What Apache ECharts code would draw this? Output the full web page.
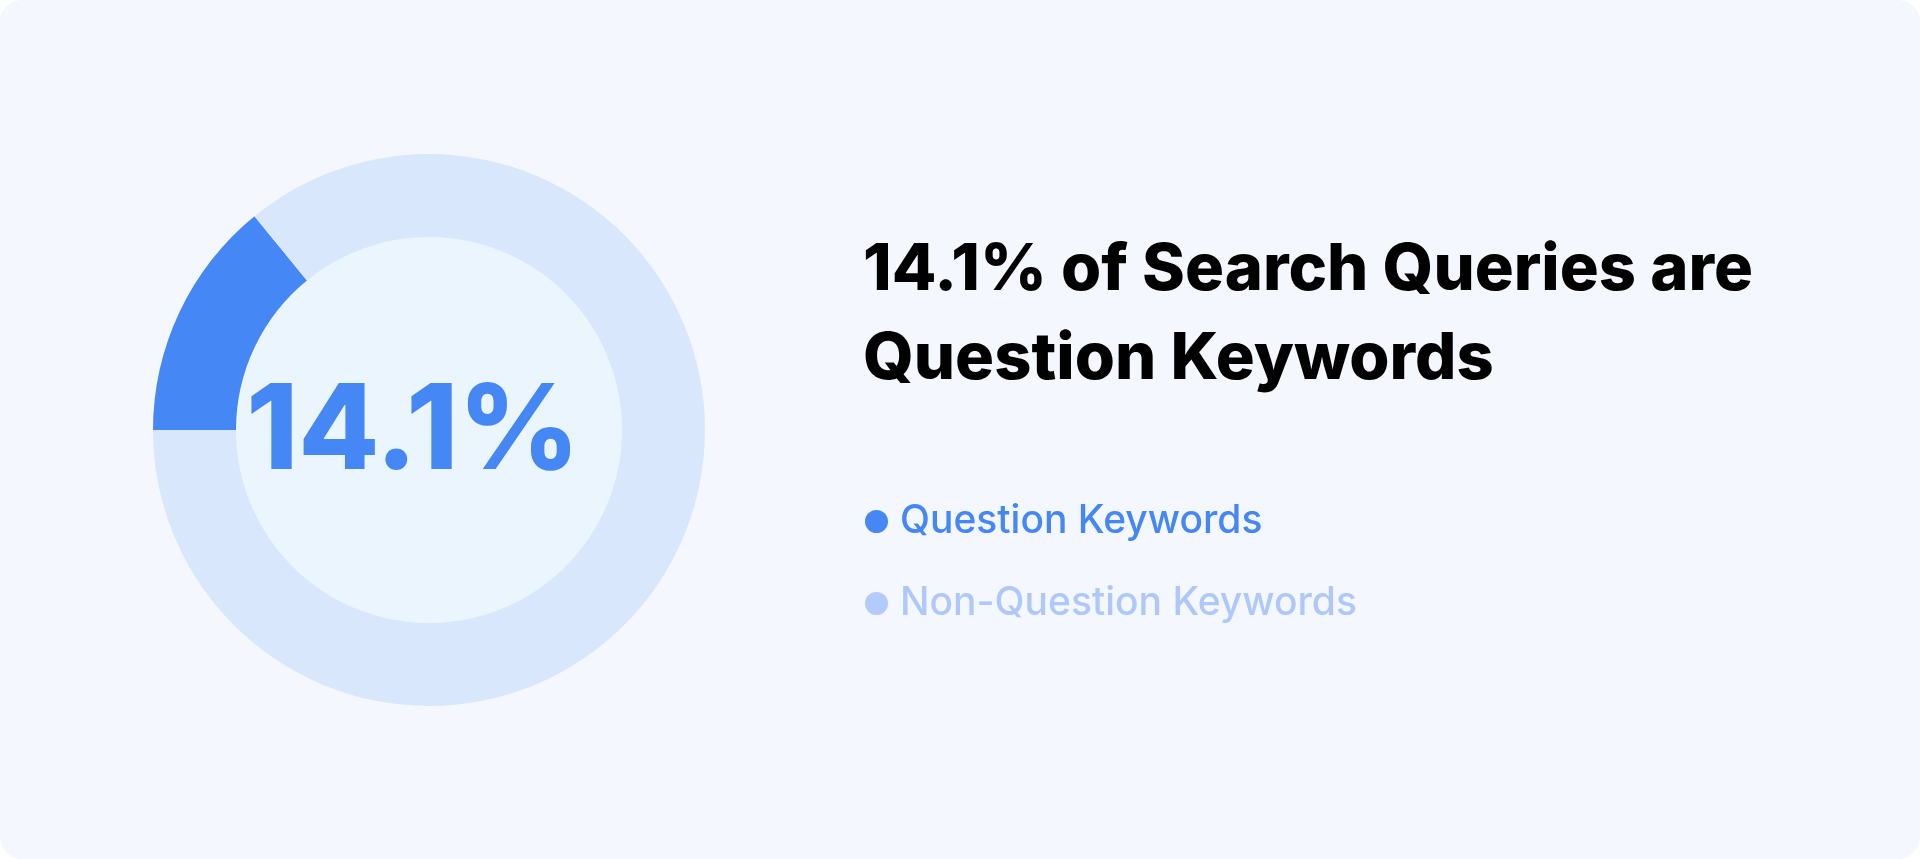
<!DOCTYPE html>
<html>
<head>
<meta charset="utf-8">
<script src="https://cdn.jsdelivr.net/npm/echarts@6/dist/echarts.min.js"></script>
<style>
html,body{margin:0;padding:0;background:#ffffff;width:1920px;height:859px;overflow:hidden;}
#card{position:absolute;left:0;top:0;width:1920px;height:859px;background:#F4F7FE;border-radius:22px;overflow:hidden;}
#chart{width:1920px;height:859px;}
</style>
</head>
<body>
<div id="card"><div id="chart"></div></div>
<script>
const categories = ['Question Keywords', 'Non-Question Keywords'];
const shares = [14.1, 85.9];
const sliceColors = ['#4587F5', '#D9E7FC'];
const legendTextColors = ['#4587F5', '#AFC8FB'];
const legendDotColors = ['#4587F5', '#B2CBFB'];
const titleLines = ['14.1% of Search Queries are', 'Question Keywords'];

const chart = echarts.init(document.getElementById('chart'), null, {renderer: 'canvas'});
const font = 'Inter, "Noto Sans", sans-serif';

chart.setOption({
  backgroundColor: 'transparent',
  animation: false,
  title: {
    text: titleLines.join('\n'),
    left: 858,
    top: 221,
    textStyle: {
      color: '#000000',
      fontFamily: font,
      fontWeight: 800,
      fontSize: 65,
      lineHeight: 89
    }
  },
  legend: {
    orient: 'vertical',
    left: 860,
    top: 497,
    icon: 'circle',
    itemWidth: 23,
    itemHeight: 23,
    itemGap: 43,
    selectedMode: false,
    data: categories.map((c, i) => ({
      name: c,
      itemStyle: {color: legendDotColors[i]},
      textStyle: {color: legendTextColors[i], fontSize: 39, fontFamily: font, fontWeight: 500, padding: [0, 0, 0, 7]}
    }))
  },
  series: [
    {
      type: 'pie',
      silent: true,
      center: [429, 430],
      radius: [0, 193],
      label: {show: false},
      labelLine: {show: false},
      itemStyle: {color: '#EAF5FE'},
      data: [{value: 1, name: 'hole'}],
      z: 1
    },
    {
      type: 'pie',
      silent: true,
      center: [429, 430],
      radius: [193, 276],
      startAngle: 180,
      clockwise: true,
      label: {show: false},
      labelLine: {show: false},
      data: categories.map((c, i) => ({
        name: c,
        value: shares[i],
        itemStyle: {color: sliceColors[i]},
        label: i === 0 ? {
          show: true,
          position: 'center',
          formatter: '{c}%',
          color: sliceColors[0],
          fontFamily: font,
          fontWeight: 800,
          fontSize: 118,
          offset: [-16, 4]
        } : {show: false}
      })),
      z: 2
    }
  ]
});
</script>
</body>
</html>
